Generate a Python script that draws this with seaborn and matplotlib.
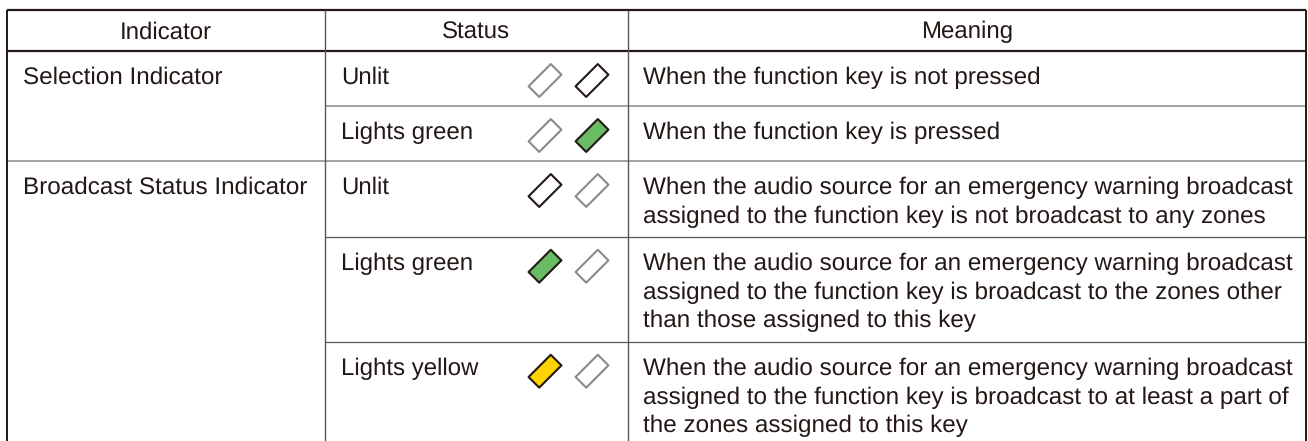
import matplotlib
matplotlib.use("Agg")
import matplotlib.pyplot as plt
import pandas as pd
import seaborn as sns
from matplotlib.path import Path

# Table content
headers = ["Indicator", "Status", "Meaning"]
indicators = ["Selection Indicator", "", "Broadcast Status Indicator", "", ""]
statuses = ["Unlit", "Lights green", "Unlit", "Lights green", "Lights yellow"]
meanings = [
    ["When the function key is not pressed"],
    ["When the function key is pressed"],
    ["When the audio source for an emergency warning broadcast",
     "assigned to the function key is not broadcast to any zones"],
    ["When the audio source for an emergency warning broadcast",
     "assigned to the function key is broadcast to the zones other",
     "than those assigned to this key"],
    ["When the audio source for an emergency warning broadcast",
     "assigned to the function key is broadcast to at least a part of",
     "the zones assigned to this key"],
]
left_lamp = ["off", "off", "unlit", "green", "yellow"]
right_lamp = ["unlit", "green", "off", "off", "off"]

# Layout in image pixels
W, H = 1308, 441
col_x = [7, 325, 628, 1306]
row_y = [51, 106, 161, 236.7, 341.7]
top_y = 10
lamp_x = [545, 592]
text_x = [23, 341, 643]
header_x = [166, 476, 967]
ink = "#231815"
mid = "#595757"
light = "#8c8a88"
fills = {"off": "white", "unlit": "white", "green": "#69bc64", "yellow": "#ffd400"}

sns.set_theme(style="white")
plt.rcParams["font.family"] = ["Liberation Sans", "DejaVu Sans"]
plt.rcParams["text.hinting"] = "no_hinting"
fs_indicator = 17.5
fs_status = 17.3
fs_meaning = 17.45

fig, ax = plt.subplots(figsize=(W / 100, H / 100), dpi=100)
ax.set_position([0, 0, 1, 1])
ax.set_xlim(0, W)
ax.set_ylim(H, 0)
ax.axis("off")

# Rules
ax.hlines([top_y, row_y[0]], col_x[0], col_x[3], color=ink, lw=1.6)
ax.hlines(row_y[1], col_x[1], col_x[3], color=light, lw=1.1)
ax.hlines(row_y[2], col_x[0], col_x[3], color=light, lw=1.1)
ax.hlines(row_y[3:], col_x[1], col_x[3], color=mid, lw=0.9)
ax.vlines([col_x[0], col_x[3]], top_y, H, color=ink, lw=1.4)
ax.vlines(col_x[1:3], top_y, H, color=mid, lw=1.0)

# Lamps, tilted bars drawn as a custom marker
lamp = Path([(6, 17), (17, 6), (-6, -17), (-17, -6), (6, 17)], closed=True)
lamps = pd.DataFrame({
    "x": [lamp_x[0]] * 5 + [lamp_x[1]] * 5,
    "y": [y + 29.5 for y in row_y] * 2,
    "state": left_lamp + right_lamp,
})
for edge, sub in [(light, lamps[lamps.state == "off"]), (ink, lamps[lamps.state != "off"])]:
    sns.scatterplot(data=sub, x="x", y="y", hue="state", palette=fills, marker=lamp,
                    s=560, edgecolor=edge, linewidth=1.5, legend=False, ax=ax)
ax.set_xlabel("")
ax.set_ylabel("")

# Text
for x, label in zip(header_x, headers):
    ax.text(x, 38.5, label, ha="center", va="baseline", fontsize=fs_status, color=ink)
for i, y in enumerate(row_y):
    base = y + 33
    ax.text(text_x[0], base, indicators[i], va="baseline", fontsize=fs_indicator, color=ink)
    ax.text(text_x[1], base, statuses[i], va="baseline", fontsize=fs_status, color=ink)
    for j, line in enumerate(meanings[i]):
        ax.text(text_x[2], base + j * 28.9, line, va="baseline", fontsize=fs_meaning, color=ink)

fig.savefig("out.png", dpi=100)
